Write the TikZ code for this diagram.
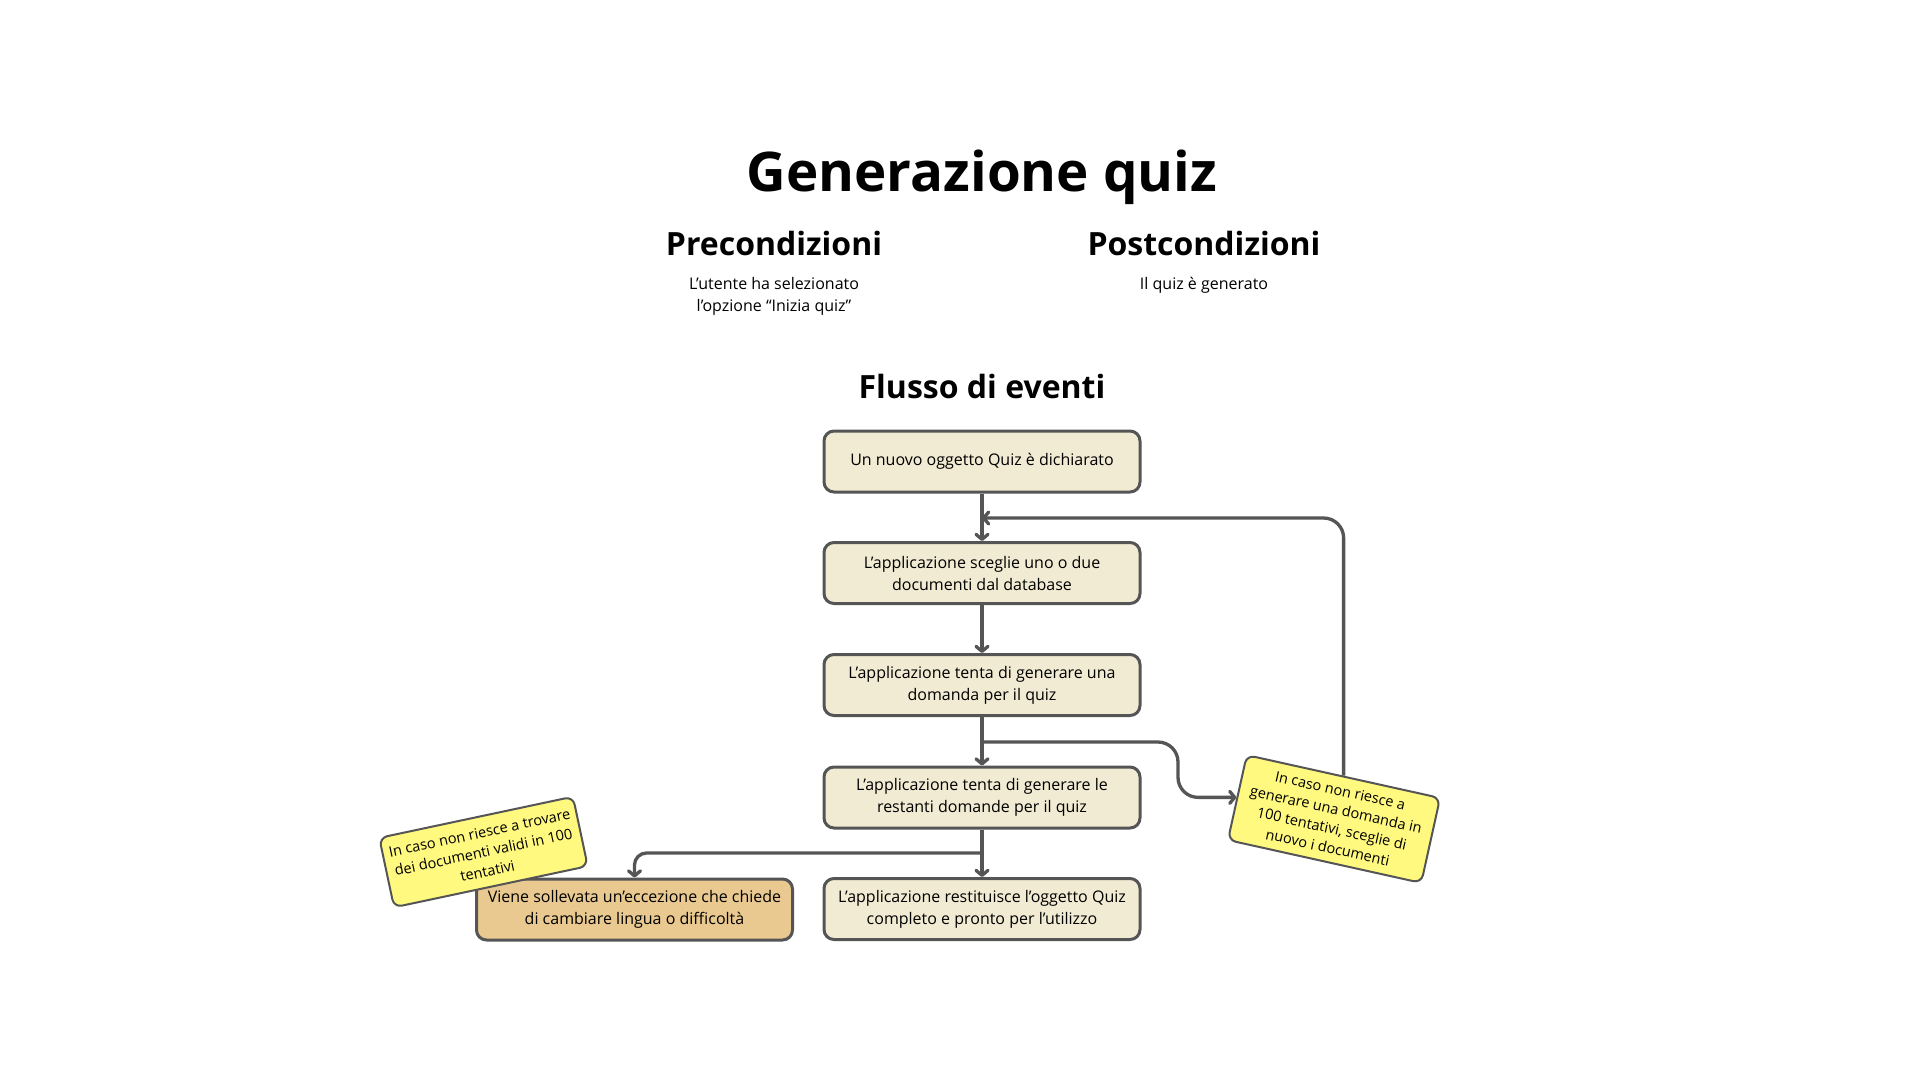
\documentclass[tikz,border=0pt]{standalone}
\usepackage{fontspec}
\setmainfont{Open Sans}
\usetikzlibrary{arrows.meta}
\definecolor{edgec}{HTML}{555555}
\definecolor{boxfill}{HTML}{F2EBD3}
\definecolor{excfill}{HTML}{E9C98F}
\definecolor{notefill}{HTML}{FFF97F}
\tikzset{
  stepbox/.style={draw=edgec, line width=3pt, fill=boxfill, rounded corners=10pt,
    minimum width=316pt, minimum height=61pt, inner sep=0pt, align=center,
    font=\fontsize{16}{22}\selectfont},
  excbox/.style={stepbox, fill=excfill},
  notebox/.style={draw=edgec, line width=2pt, fill=notefill, rounded corners=8pt,
    minimum width=198pt, inner sep=2pt, align=center,
    font=\fontsize{14.5}{19.5}\selectfont},
  conn/.style={draw=edgec, line width=3.3pt, -{Straight Barb[round,length=5pt,width=12pt]}},
  titletext/.style={font=\bfseries\fontsize{54.7}{60}\selectfont},
  headtext/.style={font=\bfseries\fontsize{32}{36}\selectfont},
  bodytext/.style={font=\fontsize{16}{22}\selectfont, align=center}
}
\begin{document}
\begin{tikzpicture}[x=1pt,y=-1pt]
\useasboundingbox[fill=white] (0,0) rectangle (1920,1080);
\node[titletext] (title) at (982,177) {Generazione quiz};
\node[headtext] (pre) at (774,243) {Precondizioni};
\node[headtext] (post) at (1204,243) {Postcondizioni};
\node[bodytext] (pretxt) at (774,296.5) {L’utente ha selezionato\\l’opzione “Inizia quiz”};
\node[bodytext] (posttxt) at (1204,285.5) {Il quiz è generato};
\node[headtext] (flow) at (982,386) {Flusso di eventi};

\node[stepbox] (b1) at (982,461.5) {\strut Un nuovo oggetto Quiz è dichiarato};
\node[stepbox] (b2) at (982,573) {L’applicazione sceglie uno o due\\documenti dal database};
\node[stepbox] (b3) at (982,685) {L’applicazione tenta di generare una\\domanda per il quiz};
\node[stepbox] (b4) at (982,797.5) {L’applicazione tenta di generare le\\restanti domande per il quiz};
\node[stepbox] (b5) at (982,909) {L’applicazione restituisce l’oggetto Quiz\\completo e pronto per l’utilizzo};
\node[excbox] (b6) at (634.5,909.5) {Viene sollevata un’eccezione che chiede\\di cambiare lingua o difficoltà};

\node[notebox, minimum height=87pt, rotate=-12.5] (n1) at (1334,819)
  {In caso non riesce a\\generare una domanda in\\100 tentativi, sceglie di\\nuovo i documenti};
\node[notebox, minimum height=71pt, rotate=12] (n2) at (483.5,852)
  {In caso non riesce a trovare\\dei documenti validi in 100\\tentativi};

\coordinate (j1) at (982,518);
\coordinate (s1) at (982,742);
\coordinate (s2) at (982,853);

\draw[conn] (b1) -- (b2);
\draw[conn] (b2) -- (b3);
\draw[conn] (b3) -- (b4);
\draw[conn] (b4) -- (b5);
\draw[conn, rounded corners=20pt] (n1.north) |- (j1);
\draw[conn, rounded corners=20pt] (s1) -- (1178,742) |- (n1.west);
\draw[conn, rounded corners=12pt] (s2) -| (b6.north);
\end{tikzpicture}
\end{document}
